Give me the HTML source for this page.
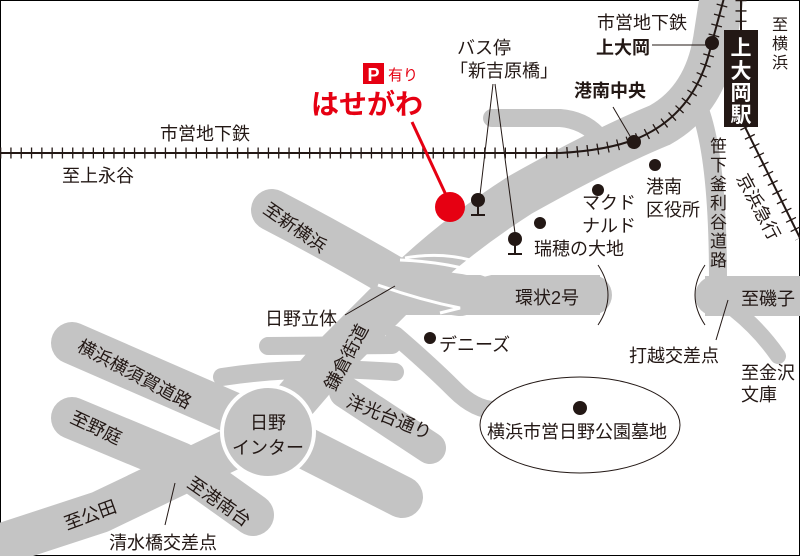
<!DOCTYPE html>
<html><head><meta charset="utf-8"><style>
html,body{margin:0;padding:0;background:#fff}
svg{display:block}
text{font-family:"Liberation Sans","Noto Sans CJK JP",sans-serif;fill:#231815}
</style></head><body>
<svg width="800" height="556" viewBox="0 0 800 556" xmlns="http://www.w3.org/2000/svg">
<rect x="0.5" y="0.5" width="799" height="555" fill="#fff" stroke="#000" stroke-width="1"/>
<g fill="none" stroke="#c4c4c4" stroke-linecap="round" stroke-linejoin="round">
  <path d="M268 432 L330 360 L400 290 Q450 240 520 195 Q600 150 660 125 Q705 100 715 40 L722 -5" stroke-width="44"/>
  <path d="M492 118 L560 118 Q585 120 600 138" stroke-width="18"/>
  <path d="M700 110 Q718 160 718 280" stroke-width="18"/>
  <path d="M380 295 L585 295 L600 295" stroke-width="40" stroke-linecap="butt"/>
  <path d="M585 295 L592 295" stroke-width="40"/>
  <path d="M705 296 L800 296" stroke-width="40" stroke-linecap="butt"/>
  <path d="M715 296 L715 296" stroke-width="40"/>
  <path d="M735 310 Q760 330 778 356" stroke-width="16"/>
  <path d="M272 210 Q330 240 390 275 Q420 290 460 295" stroke-width="42"/>
  <path d="M395 335 Q430 365 455 390 Q475 410 495 410" stroke-width="18"/>
  <path d="M268 346 L392 345" stroke-width="18"/>
  <path d="M222 377 Q300 365 395 372" stroke-width="18"/>
  <path d="M72 343 L260 425 L402 497" stroke-width="42"/>
  <path d="M345 392 L430 448" stroke-width="32"/>
  <path d="M72 418 L180 463 L253 515" stroke-width="42"/>
  <path d="M-10 548 L100 512 L240 445" stroke-width="42"/>
</g>
<g fill="none" stroke="#fff" stroke-width="3">
  <path d="M400 260 Q450 262 485 275 L505 270"/>
  <path d="M378 285 Q420 300 460 308 L440 313"/>
  <path d="M405 258 Q440 252 470 260"/>
</g>
<circle cx="268" cy="432" r="46" fill="#c4c4c4" stroke="#fff" stroke-width="4"/>
<g fill="none" stroke="#231815" stroke-width="1">
  <path d="M598 265 Q618 295 598 325"/>
  <path d="M705 265 Q685 295 705 325"/>
</g>
<g fill="none" stroke="#231815">
  <path d="M0 153 L560 153 Q615 150 645 135 Q695 110 710 50 L724 -2" stroke-width="2"/>
  <path d="M0 153 L560 153 Q615 150 645 135 Q695 110 710 50 L724 -2" stroke-width="11" stroke-dasharray="1.3 9"/>
  <path d="M741 0 L741 30" stroke-width="2"/>
  <path d="M741 0 L741 30" stroke-width="11" stroke-dasharray="1.3 9"/>
  <path d="M745 127 L800 238" stroke-width="2"/>
  <path d="M745 127 L800 238" stroke-width="11" stroke-dasharray="1.3 9"/>
</g>
<rect x="724" y="30" width="34" height="97" fill="#231815"/>
<g font-size="21" font-weight="bold">
<text x="741" y="55" text-anchor="middle" style="fill:#fff">上</text>
<text x="741" y="78" text-anchor="middle" style="fill:#fff">大</text>
<text x="741" y="100" text-anchor="middle" style="fill:#fff">岡</text>
<text x="741" y="122" text-anchor="middle" style="fill:#fff">駅</text>
</g>
<g stroke="#231815" stroke-width="1" fill="none">
  <path d="M493 84 L480 195 M495 84 L515 233"/>
  <path d="M652 45 L710 45"/>
  <path d="M613 107 L630 136"/>
  <path d="M345 315 L395 286"/>
  <path d="M175 483 L165 525"/>
  <path d="M728 300 L716 340"/>
</g>
<ellipse cx="580" cy="425" rx="100" ry="48" fill="#fff" stroke="#231815" stroke-width="1"/>
<g fill="#231815">
  <circle cx="712" cy="43" r="7"/><circle cx="634" cy="142" r="7"/>
  <circle cx="655" cy="165" r="6"/><circle cx="598" cy="190" r="6"/><circle cx="540" cy="223" r="6"/>
  <circle cx="430" cy="338" r="6"/><circle cx="580" cy="408" r="7"/>
  <circle cx="478" cy="200" r="7"/><circle cx="515" cy="239" r="7"/>
</g>
<g stroke="#231815" stroke-width="2">
  <path d="M478 200 L478 215 M471 215 L485 215"/>
  <path d="M515 239 L515 254 M508 254 L522 254"/>
</g>
<path d="M412 122 L446 195" stroke="#e60012" stroke-width="3"/>
<circle cx="450" cy="207" r="15" fill="#e60012"/>
<rect x="363" y="63" width="21" height="21" fill="#e60012"/>
<text x="373.5" y="81" font-size="18" font-weight="bold" text-anchor="middle" style="fill:#fff">P</text>
<text x="388" y="80" font-size="15" style="fill:#e60012">有り</text>
<text x="311" y="114" font-size="28" font-weight="bold" style="fill:#e60012">はせがわ</text>
<g font-size="18">
<text x="160" y="140">市営地下鉄</text>
<text x="62" y="182">至上永谷</text>
<text x="457" y="54">バス停</text>
<text x="450" y="77">「新吉原橋」</text>
<text x="597" y="29">市営地下鉄</text>
<text x="596" y="54" font-weight="bold">上大岡</text>
<text x="574" y="97" font-weight="bold">港南中央</text>
<text x="646" y="193">港南</text>
<text x="646" y="216">区役所</text>
<text x="582" y="209">マクド</text>
<text x="582" y="232">ナルド</text>
<text x="534" y="255">瑞穂の大地</text>
<text x="515" y="304">環状2号</text>
<text x="265" y="325">日野立体</text>
<text x="439" y="351">デニーズ</text>
<text x="487" y="438">横浜市営日野公園墓地</text>
<text x="629" y="362">打越交差点</text>
<text x="741" y="305">至磯子</text>
<text x="741" y="379">至金沢</text>
<text x="741" y="401">文庫</text>
<text x="109" y="549">清水橋交差点</text>
<text x="268" y="429" text-anchor="middle">日野</text>
<text x="268" y="454" text-anchor="middle">インター</text>
</g>
<g font-size="16">
<text x="772" y="30">至</text><text x="772" y="49">横</text><text x="772" y="68">浜</text>
</g>
<g font-size="17">
<text x="710" y="152">笹</text><text x="710" y="171">下</text><text x="710" y="190">釜</text><text x="710" y="209">利</text><text x="710" y="228">谷</text><text x="710" y="247">道</text><text x="710" y="266">路</text>
</g>
<g font-size="18">
<text transform="translate(736,178) rotate(62)">京浜急行</text>
<text transform="translate(262,212) rotate(35)">至新横浜</text>
<text transform="translate(335,392) rotate(-62)">鎌倉街道</text>
<text transform="translate(76,350) rotate(28)">横浜横須賀道路</text>
<text transform="translate(69,422) rotate(25)">至野庭</text>
<text transform="translate(345,406) rotate(22)">洋光台通り</text>
<text transform="translate(186,486) rotate(35)">至港南台</text>
<text transform="translate(67,530) rotate(-20)">至公田</text>
</g>
</svg>
</body></html>
